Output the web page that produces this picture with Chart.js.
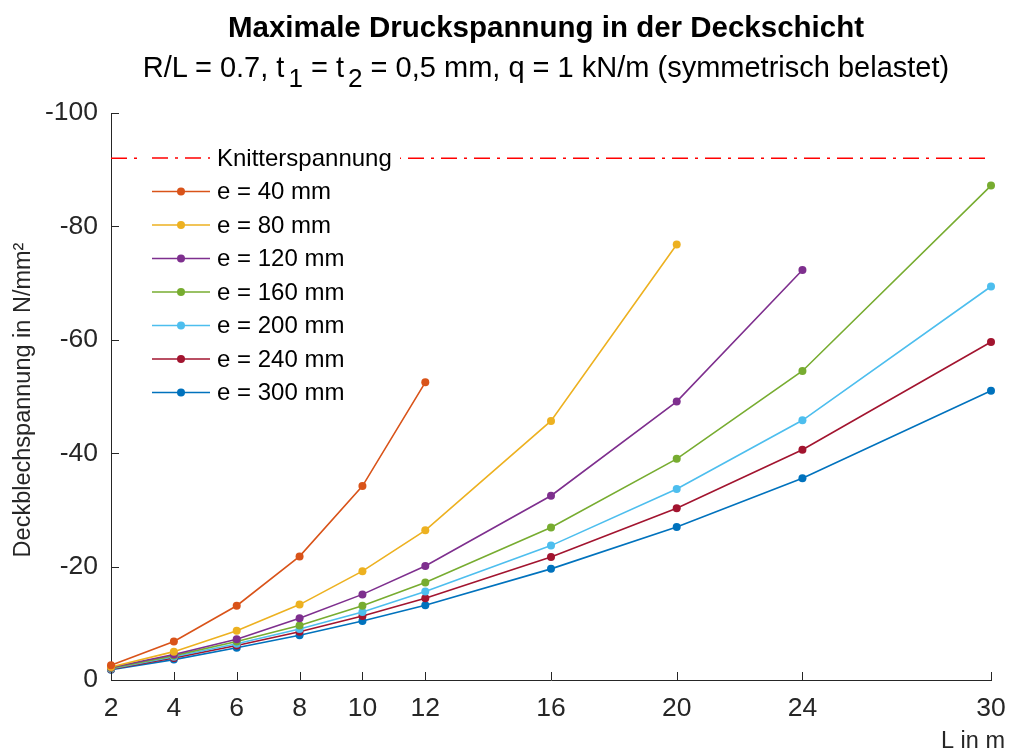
<!DOCTYPE html>
<html>
<head>
<meta charset="utf-8">
<script src="https://cdn.jsdelivr.net/npm/chart.js@4.4.0/dist/chart.umd.min.js"></script>
<style>
  html, body { margin: 0; padding: 0; background: #fff; }
  #wrap { position: relative; width: 1009px; height: 753px; overflow: hidden; }
  #c { position: absolute; left: 0; top: 0; }
  .ttl { position: absolute; left: 46px; width: 1000px; text-align: center; color: #000;
         font-family: "Liberation Sans", Arial, sans-serif; white-space: nowrap; line-height: 1; }
  #t1 { top: 12px; font-size: 29.5px; font-weight: bold; }
  #t2 { top: 53px; font-size: 29px; }
  #t2 sub { font-size: 0.9em; vertical-align: -0.4em; margin-left: 4px; line-height: 0; }
</style>
</head>
<body>
<div id="wrap">
  <canvas id="c" width="1009" height="753"></canvas>
  <div class="ttl" id="t1">Maximale Druckspannung in der Deckschicht</div>
  <div class="ttl" id="t2">R/L = 0.7, t<sub>1</sub> = t<sub>2</sub> = 0,5 mm, q = 1 kN/m (symmetrisch belastet)</div>
</div>
<script>
// ---- data ----
const X_LENGTHS = [2, 4, 6, 8, 10, 12, 16, 20, 24, 30];
const X_TICKS = [2, 4, 6, 8, 10, 12, 16, 20, 24, 30];
const SERIES_NAMES = ["e = 40 mm", "e = 80 mm", "e = 120 mm", "e = 160 mm", "e = 200 mm", "e = 240 mm", "e = 300 mm"];
const SERIES_COLORS = ["#D95319", "#EDB120", "#7E2F8E", "#77AC30", "#4DBEEE", "#A2142F", "#0072BD"];
const E40  = [-2.6, -6.8, -13.1, -21.8, -34.2, -52.5];
const E80  = [-2.3, -5.0, -8.7, -13.3, -19.2, -26.4, -45.7, -76.8];
const E120 = [-2.2, -4.5, -7.2, -10.9, -15.1, -20.1, -32.5, -49.1, -72.3];
const E160 = [-2.1, -4.3, -6.8, -9.6, -13.1, -17.2, -26.9, -39.0, -54.5, -87.2];
const E200 = [-2.0, -4.1, -6.4, -9.0, -12.0, -15.6, -23.7, -33.7, -45.8, -69.4];
const E240 = [-1.9, -3.9, -6.1, -8.5, -11.3, -14.4, -21.7, -30.3, -40.6, -59.6];
const E300 = [-1.8, -3.6, -5.7, -7.9, -10.4, -13.2, -19.6, -27.0, -35.6, -51.0];
const KNITTER_NAME = "Knitterspannung";
const KNITTER_VALUE = -92;
const KNITTER_RANGE = [2, 30];
const Y_MIN = -100, Y_MAX = 0, Y_STEP = 20;

const SERIES_VALUES = [E40, E80, E120, E160, E200, E240, E300];

const FONT = '"Liberation Sans", Arial, sans-serif';
const AXIS_COLOR = '#262626';
const DASH = [16, 7, 3, 7];

const datasets = [];
datasets.push({
  label: KNITTER_NAME,
  data: KNITTER_RANGE.map(x => ({x: x, y: KNITTER_VALUE})),
  borderColor: '#FF0000',
  borderWidth: 1.5,
  borderDash: DASH,
  pointRadius: 0,
  clip: false
});
SERIES_VALUES.forEach((vals, i) => {
  datasets.push({
    label: SERIES_NAMES[i],
    data: vals.map((v, k) => ({x: X_LENGTHS[k], y: v})),
    borderColor: SERIES_COLORS[i],
    backgroundColor: SERIES_COLORS[i],
    borderWidth: 1.6,
    pointRadius: 4,
    pointBorderWidth: 0,
    pointBackgroundColor: SERIES_COLORS[i],
    tension: 0,
    clip: false
  });
});

const decorPlugin = {
  id: 'decor',
  afterDraw(chart) {
    const ctx = chart.ctx;
    const ca = chart.chartArea;
    const xs = chart.scales.x, ys = chart.scales.y;
    ctx.save();
    // inward tick marks
    ctx.strokeStyle = AXIS_COLOR;
    ctx.lineWidth = 1;
    X_TICKS.forEach(v => {
      const px = Math.round(xs.getPixelForValue(v)) + 0.5;
      ctx.beginPath(); ctx.moveTo(px, ca.bottom); ctx.lineTo(px, ca.bottom - 8); ctx.stroke();
    });
    for (let v = Y_MIN; v <= Y_MAX; v += Y_STEP) {
      const py = Math.round(ys.getPixelForValue(v)) + 0.5;
      ctx.beginPath(); ctx.moveTo(ca.left, py); ctx.lineTo(ca.left + 8, py); ctx.stroke();
    }
    // legend (white box)
    const lx = ca.left + 27, ly = ca.top + 29;
    const rowH = 33.5;
    ctx.fillStyle = '#fff';
    ctx.fillRect(lx, ly, 262, rowH * 8 + 6);
    ctx.font = '24px ' + FONT;
    ctx.textBaseline = 'middle';
    ctx.textAlign = 'left';
    chart.data.datasets.forEach((ds, i) => {
      const y = ly + 16 + i * rowH;
      ctx.strokeStyle = ds.borderColor;
      ctx.lineWidth = 1.5;
      ctx.setLineDash(ds.borderDash || []);
      ctx.beginPath(); ctx.moveTo(lx + 14, y); ctx.lineTo(lx + 72, y); ctx.stroke();
      ctx.setLineDash([]);
      if (ds.pointRadius > 0) {
        ctx.fillStyle = ds.borderColor;
        ctx.beginPath(); ctx.arc(lx + 43, y, 4, 0, Math.PI * 2); ctx.fill();
      }
      ctx.fillStyle = '#000';
      ctx.fillText(ds.label, lx + 79, y + 1);
    });
    // axis titles
    ctx.fillStyle = AXIS_COLOR;
    ctx.font = '23.5px ' + FONT;
    ctx.textAlign = 'right';
    ctx.textBaseline = 'alphabetic';
    ctx.fillText('L in m', 1005, 748);
    ctx.translate(30, 400);
    ctx.rotate(-Math.PI / 2);
    ctx.textAlign = 'center';
    ctx.fillText('Deckblechspannung in N/mm²', 0, 0);
    ctx.restore();
  }
};

new Chart(document.getElementById('c'), {
  type: 'line',
  data: { datasets: datasets },
  options: {
    responsive: false,
    animation: false,
    events: [],
    layout: { padding: { top: 113, right: 18, left: 0, bottom: 0 } },
    plugins: { legend: { display: false }, tooltip: { enabled: false }, title: { display: false } },
    scales: {
      x: {
        type: 'linear',
        min: 2, max: 30,
        afterBuildTicks: s => { s.ticks = X_TICKS.map(v => ({value: v})); },
        afterFit: s => { s.height = 73; s.paddingLeft = 0; s.paddingRight = 0; },
        grid: { display: false, drawTicks: false },
        border: { display: true, color: AXIS_COLOR, width: 1 },
        ticks: { autoSkip: false, maxRotation: 0, padding: 13, color: AXIS_COLOR,
                 font: { family: FONT, size: 26.5 } }
      },
      y: {
        type: 'linear',
        min: Y_MIN, max: Y_MAX,
        reverse: true,
        afterFit: s => { s.width = 111; s.paddingTop = 0; s.paddingBottom = 0; },
        grid: { display: false, drawTicks: false },
        border: { display: true, color: AXIS_COLOR, width: 1 },
        ticks: { stepSize: Y_STEP, padding: 13, color: AXIS_COLOR,
                 font: { family: FONT, size: 26.5 } }
      }
    }
  },
  plugins: [decorPlugin]
});
</script>
</body>
</html>
